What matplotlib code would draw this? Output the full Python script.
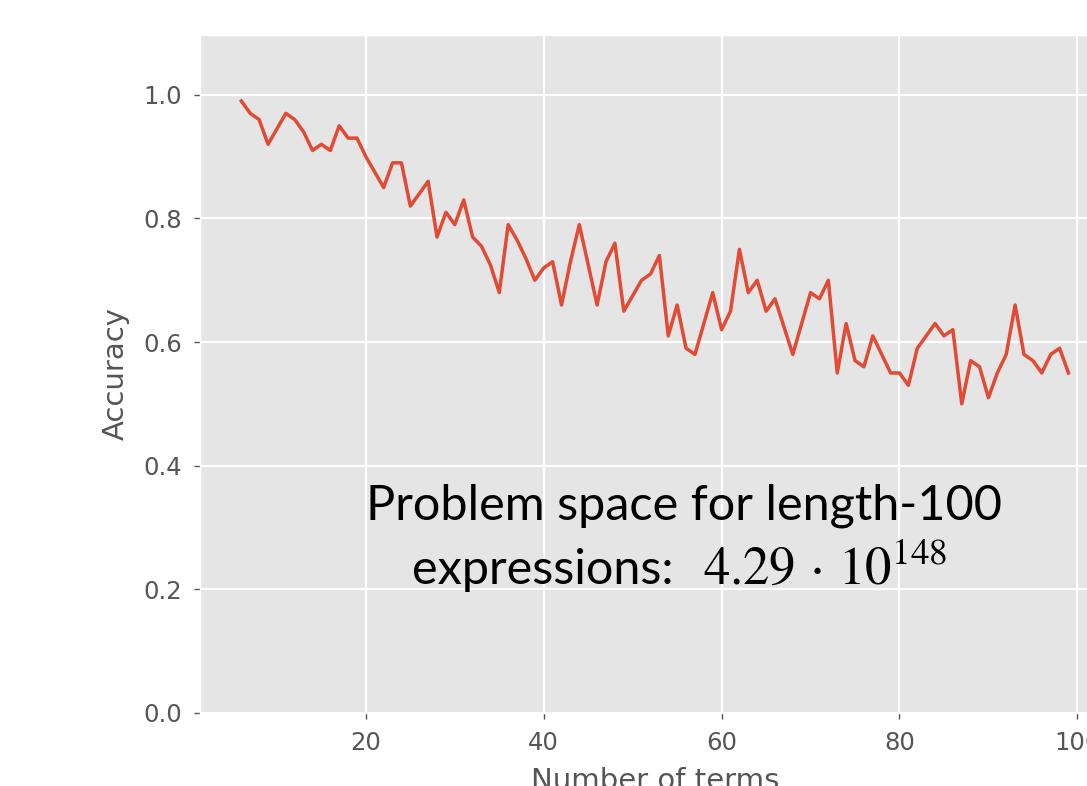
import matplotlib
matplotlib.use('Agg')
import matplotlib.pyplot as plt

plt.style.use('ggplot')
plt.rcParams['font.size'] = 17.5
plt.rcParams['mathtext.fontset'] = 'stix'

# accuracy per number of terms
terms = list(range(6, 100))
accuracy = [
    0.99, 0.97, 0.96, 0.92, 0.945, 0.97, 0.96, 0.94, 0.91, 0.92,   # 6-15
    0.91, 0.95, 0.93, 0.93, 0.90, 0.875, 0.85, 0.89, 0.89, 0.82,   # 16-25
    0.84, 0.86, 0.77, 0.81, 0.79, 0.83, 0.77, 0.755, 0.725, 0.68,  # 26-35
    0.79, 0.765, 0.735, 0.70, 0.72, 0.73, 0.66, 0.73, 0.79, 0.725, # 36-45
    0.66, 0.73, 0.76, 0.65, 0.675, 0.70, 0.71, 0.74, 0.61, 0.66,   # 46-55
    0.59, 0.58, 0.63, 0.68, 0.62, 0.65, 0.75, 0.68, 0.70, 0.65,    # 56-65
    0.67, 0.625, 0.58, 0.63, 0.68, 0.67, 0.70, 0.55, 0.63, 0.57,   # 66-75
    0.56, 0.61, 0.58, 0.55, 0.55, 0.53, 0.59, 0.61, 0.63, 0.61,    # 76-85
    0.62, 0.50, 0.57, 0.56, 0.51, 0.55, 0.58, 0.66, 0.58, 0.57,    # 86-95
    0.55, 0.58, 0.59, 0.55,                                        # 96-99
]

fig = plt.figure(figsize=(10.87, 7.86), dpi=100)
# axes runs past the right edge, as in the cropped original
ax = fig.add_axes([0.184, 0.093, 0.837, 0.8626])

ax.plot(terms, accuracy, color='#E24A33', linewidth=2.5)
ax.set_ylim(0, 1.097)
ax.set_xlim(1.35, 103.65)
ax.set_xticks([20, 40, 60, 80, 100])
ax.set_yticks([0.0, 0.2, 0.4, 0.6, 0.8, 1.0])
ax.grid(True, color='white', linewidth=1.6)
ax.tick_params(length=4, width=1, pad=9)

ax.set_xlabel('Number of terms', labelpad=9)
ax.set_ylabel('Accuracy', labelpad=10)

# annotation pasted over the plot
ax.text(0.5315, 0.285, 'Problem space for length-100',
        transform=ax.transAxes, ha='center', va='baseline',
        fontsize=35, family='Lato', color='black')
ax.text(0.520, 0.190, 'expressions:',
        transform=ax.transAxes, ha='right', va='baseline',
        fontsize=35, family='Lato', color='black')
ax.text(0.553, 0.190, r'$4.29\,\cdot\,10^{148}$',
        transform=ax.transAxes, ha='left', va='baseline',
        fontsize=38, color='black')

plt.savefig('out.png', dpi=100)
